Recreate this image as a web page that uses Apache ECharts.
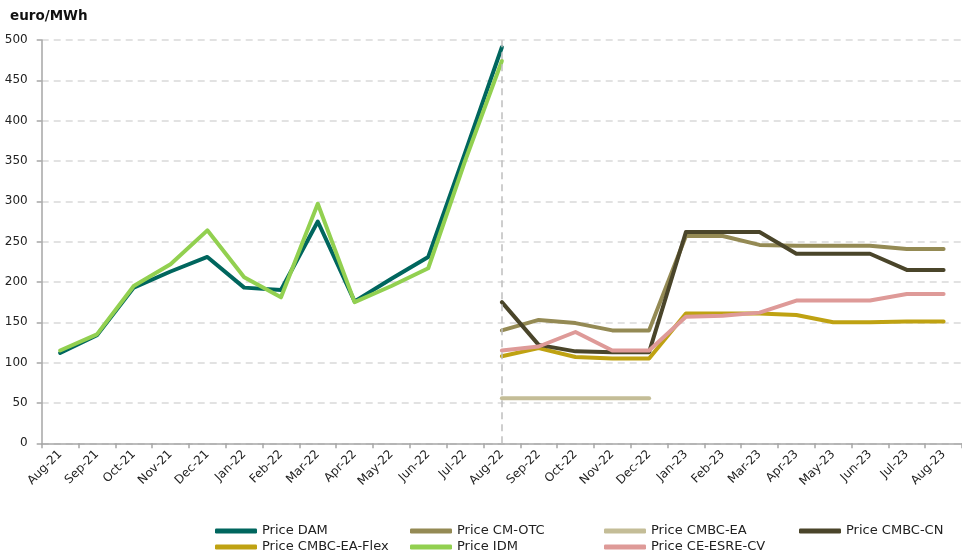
<!DOCTYPE html>
<html>
<head>
<meta charset="utf-8">
<script src="https://cdn.jsdelivr.net/npm/echarts@6/dist/echarts.min.js"></script>
<style>
html,body{margin:0;padding:0;background:#fff;}
#chart{width:962px;height:559px;}
</style>
</head>
<body>
<div id="chart"></div>
<script>
const categories = ['Aug-21','Sep-21','Oct-21','Nov-21','Dec-21','Jan-22','Feb-22','Mar-22','Apr-22','May-22','Jun-22','Jul-22','Aug-22','Sep-22','Oct-22','Nov-22','Dec-22','Jan-23','Feb-23','Mar-23','Apr-23','May-23','Jun-23','Jul-23','Aug-23'];
const yTicks = [0, 50, 100, 150, 200, 250, 300, 350, 400, 450, 500];
const priceDAM = [112,134,193,213,231,193,190,275,176,204,231,360,491,null,null,null,null,null,null,null,null,null,null,null,null];
const priceIDM = [115,135,195,222,264,206,181,297,175,195,217,350,474,null,null,null,null,null,null,null,null,null,null,null,null];
const priceCMOTC = [null,null,null,null,null,null,null,null,null,null,null,null,140,153,149,140,140,257,257,246,245,245,245,241,241];
const priceCMBCEA = [null,null,null,null,null,null,null,null,null,null,null,null,56,56,56,56,56,null,null,null,null,null,null,null,null];
const priceCMBCCN = [null,null,null,null,null,null,null,null,null,null,null,null,175,122,114,113,113,262,262,262,235,235,235,215,215];
const priceCMBCEAFlex = [null,null,null,null,null,null,null,null,null,null,null,null,108,118,107,105,105,161,161,161,159,150,150,151,151];
const priceCEESRECV = [null,null,null,null,null,null,null,null,null,null,null,null,115,120,138,115,115,157,158,162,177,177,177,185,185];

const FONT = '"DejaVu Sans", Verdana, sans-serif';
const colors = {
  'Price DAM': '#00665E',
  'Price CM-OTC': '#948A54',
  'Price CMBC-EA': '#C4BD97',
  'Price CMBC-CN': '#4A452A',
  'Price CMBC-EA-Flex': '#BFA212',
  'Price IDM': '#92D050',
  'Price CE-ESRE-CV': '#DE9A98'
};

function mkSeries(name, data, extra) {
  return Object.assign({
    name: name,
    type: 'line',
    data: data,
    symbol: 'none',
    smooth: false,
    connectNulls: false,
    lineStyle: { width: 4, color: colors[name], cap: 'round', join: 'round' },
    itemStyle: { color: colors[name] },
    emphasis: { disabled: true }
  }, extra || {});
}

const legendText = { fontFamily: FONT, fontSize: 13, color: '#222', lineHeight: 14 };
function mkLegend(left, names) {
  return {
    orient: 'vertical',
    left: left,
    top: 524,
    padding: 0,
    height: 40,
    itemWidth: 42,
    itemHeight: 5,
    itemGap: 2,
    icon: 'roundRect',
    textStyle: legendText,
    data: names,
    selectedMode: false
  };
}

const chart = echarts.init(document.getElementById('chart'), null, { renderer: 'canvas' });
chart.setOption({
  animation: false,
  backgroundColor: '#fff',
  title: {
    text: 'euro/MWh',
    left: 5,
    top: 4,
    textStyle: { fontFamily: FONT, fontSize: 13.5, fontWeight: 'bold', color: '#111' }
  },
  grid: { left: 41.7, top: 40, width: 927.5, height: 403.3, containLabel: false },
  legend: [
    mkLegend(215, ['Price DAM', 'Price CMBC-EA-Flex']),
    mkLegend(410, ['Price CM-OTC', 'Price IDM']),
    mkLegend(604, ['Price CMBC-EA', 'Price CE-ESRE-CV']),
    mkLegend(799, ['Price CMBC-CN'])
  ],
  xAxis: {
    type: 'category',
    data: categories,
    boundaryGap: true,
    axisLine: { lineStyle: { color: '#A6A6A6', width: 1.5 } },
    axisTick: { show: true, length: 5, lineStyle: { color: '#A6A6A6', width: 1.5 } },
    axisLabel: { rotate: 45, margin: 9, fontFamily: FONT, fontSize: 12, color: '#222', interval: 0 },
    splitLine: { show: false }
  },
  yAxis: {
    type: 'value',
    min: yTicks[0],
    max: yTicks[yTicks.length - 1],
    interval: yTicks[1] - yTicks[0],
    axisLine: { show: true, lineStyle: { color: '#A6A6A6', width: 1.5 } },
    axisTick: { show: true, length: 5, lineStyle: { color: '#A6A6A6', width: 1.5 } },
    axisLabel: { margin: 14, fontFamily: FONT, fontSize: 12, color: '#222' },
    splitLine: { show: true, lineStyle: { color: '#D9D9D9', width: 1.5, type: [7, 5] } }
  },
  series: [
    mkSeries('Price DAM', priceDAM, {
      markLine: {
        silent: true,
        symbol: 'none',
        label: { show: false },
        lineStyle: { color: '#BFBFBF', width: 1.5, type: [7, 5] },
        data: [{ xAxis: 'Aug-22' }]
      }
    }),
    mkSeries('Price IDM', priceIDM),
    mkSeries('Price CM-OTC', priceCMOTC),
    mkSeries('Price CMBC-EA', priceCMBCEA),
    mkSeries('Price CMBC-EA-Flex', priceCMBCEAFlex),
    mkSeries('Price CMBC-CN', priceCMBCCN),
    mkSeries('Price CE-ESRE-CV', priceCEESRECV)
  ]
});
</script>
</body>
</html>
